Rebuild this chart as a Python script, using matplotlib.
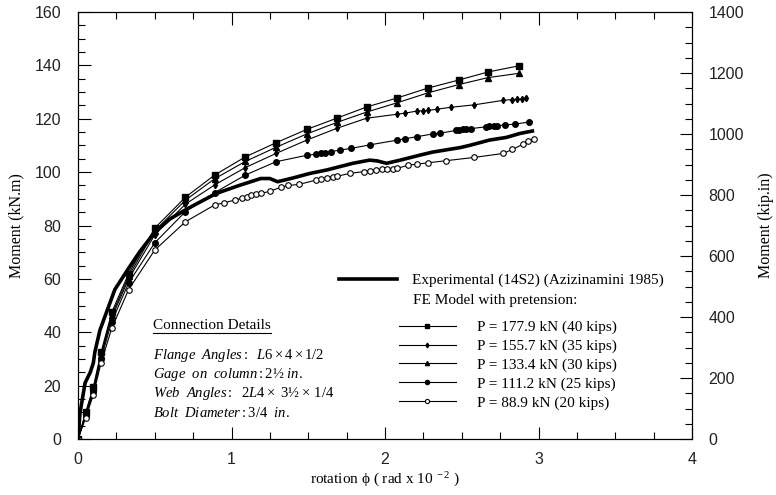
import matplotlib
matplotlib.use("Agg")
import matplotlib.pyplot as plt
from matplotlib.ticker import MultipleLocator
from matplotlib.lines import Line2D

plt.rcParams['mathtext.fontset'] = 'custom'
plt.rcParams['mathtext.rm'] = 'Liberation Serif'
plt.rcParams['mathtext.it'] = 'Liberation Serif:italic'
plt.rcParams['mathtext.bf'] = 'Liberation Serif:bold'

# ---------------- data ----------------
exp_x = [0, 0.013, 0.046, 0.08, 0.1, 0.11, 0.143, 0.24, 0.33, 0.4, 0.5, 0.6, 0.72, 0.9, 1.05,
         1.19, 1.25, 1.30, 1.40, 1.51, 1.62, 1.79, 1.90, 1.95, 2.01, 2.10, 2.23, 2.31, 2.49,
         2.55, 2.68, 2.79, 2.88, 2.96]
exp_y = [0, 9.7, 21, 25, 28.5, 32.6, 40.8, 56, 64, 70, 77.5, 82.5, 86.5, 92, 95,
         97.6, 97.6, 96.4, 97.8, 99.5, 100.8, 103.3, 104.5, 104.2, 103.3, 104.5, 106.4, 107.5, 109.2,
         110, 112, 113, 114.5, 115.4]

p40_x = [0, 0.05, 0.1, 0.15, 0.22, 0.33, 0.5, 0.7, 0.89, 1.09, 1.29, 1.49, 1.69, 1.88, 2.08,
         2.28, 2.48, 2.67, 2.87]
p40_y = [0, 10, 19.5, 32.5, 47.5, 62, 79, 90.6, 98.9, 105.7, 111, 116, 120.3, 124.4, 127.8,
         131.5, 134.5, 137.5, 139.8]

p30_x = p40_x
p30_y = [0, 9.5, 19, 31.5, 46.5, 61, 78, 89.5, 97.5, 104, 109.3, 114.3, 118.7, 122.5, 126,
         129.7, 132.8, 135.4, 137]

p35_x = [0, 0.05, 0.1, 0.15, 0.22, 0.33, 0.5, 0.7, 0.89, 1.09, 1.29, 1.49, 1.69, 1.88, 2.08,
         2.13, 2.21, 2.25, 2.28, 2.34, 2.43, 2.58, 2.77, 2.83, 2.86, 2.89, 2.92]
p35_y = [0, 9, 18, 31, 45.5, 60, 76.5, 88, 95.2, 101.7, 107, 112, 116.5, 120.2, 121.7,
         122.1, 122.9, 123, 123.1, 123.6, 124.3, 125.2, 126.9, 127.2, 127.3, 127.4, 127.8]

p25_x = [0, 0.05, 0.1, 0.15, 0.22, 0.33, 0.5, 0.7, 0.89, 1.09, 1.29, 1.49, 1.55, 1.58, 1.61,
         1.65, 1.71, 1.78, 1.90, 2.08, 2.13, 2.21, 2.31, 2.36, 2.46, 2.48, 2.51, 2.53, 2.56,
         2.66, 2.68, 2.71, 2.73, 2.78, 2.85, 2.94]
p25_y = [0, 8.5, 17.5, 30, 44, 58.5, 73.5, 85.2, 92.3, 98.9, 103.9, 106.3, 106.7, 107.0, 107.3,
         107.7, 108.3, 108.9, 110.2, 112, 112.5, 113.3, 114.3, 114.6, 115.6, 115.8, 116.0, 116.1, 116.3,
         117.0, 117.1, 117.2, 117.3, 117.7, 118, 118.8]

p20_x = [0, 0.05, 0.1, 0.15, 0.22, 0.33, 0.5, 0.7, 0.89, 0.95, 1.02, 1.07, 1.10, 1.13, 1.16,
         1.19, 1.25, 1.32, 1.37, 1.44, 1.55, 1.58, 1.62, 1.66, 1.69, 1.77, 1.86, 1.90, 1.94,
         1.98, 2.01, 2.05, 2.08, 2.15, 2.21, 2.28, 2.40, 2.58, 2.77, 2.83, 2.90, 2.93, 2.97]
p20_y = [0, 8, 16.5, 28.5, 41.5, 56, 70.8, 81.4, 87.7, 88.5, 89.5, 90.2, 90.8, 91.3, 91.7,
         92.0, 92.8, 94.3, 95.0, 95.4, 97.0, 97.4, 97.9, 98.3, 98.5, 99.5, 100.2, 100.5, 100.8,
         101.0, 101.2, 101.3, 101.4, 102.6, 103, 103.5, 104.3, 105.5, 107, 108.5, 110.5, 111.8, 112.4]

labels = ["Experimental (14S2) (Azizinamini 1985)",
          "P = 177.9 kN (40 kips)", "P = 155.7 kN (35 kips)", "P = 133.4 kN (30 kips)",
          "P = 111.2 kN (25 kips)", "P = 88.9 kN (20 kips)"]

# ---------------- figure ----------------
fig = plt.figure(figsize=(7.76, 4.95), dpi=100)
ax = fig.add_axes([78/776, 1-439/495, (692-78)/776, (439-12)/495])
serif = 'Liberation Serif'
sans = 'Liberation Sans'

lw = 0.8
ax.plot(exp_x, exp_y, color='black', lw=2.6, label=labels[0], zorder=5)
h40, = ax.plot(p40_x, p40_y, color='black', lw=lw, marker='s', ms=4, label=labels[1])
h35, = ax.plot(p35_x, p35_y, color='black', lw=lw, marker='d', ms=3.2, label=labels[2])
h30, = ax.plot(p30_x, p30_y, color='black', lw=lw, marker='^', ms=4, label=labels[3])
h25, = ax.plot(p25_x, p25_y, color='black', lw=lw, marker='o', ms=4, label=labels[4])
h20, = ax.plot(p20_x, p20_y, color='black', lw=lw, marker='o', ms=4, mfc='white', mew=0.8, label=labels[5])

ax.set_xlim(0, 4)
ax.set_ylim(0, 160)
ax.xaxis.set_major_locator(MultipleLocator(1))
ax.xaxis.set_minor_locator(MultipleLocator(0.25))
ax.yaxis.set_major_locator(MultipleLocator(20))
ax.yaxis.set_minor_locator(MultipleLocator(5))
ax.tick_params(which='both', direction='in', top=True, right=False, labelsize=11.5)
ax.tick_params(which='major', length=9, width=0.8)
ax.tick_params(which='minor', length=5, width=0.8)
ax.tick_params(axis='x', pad=9)
ax.tick_params(axis='y', pad=12)
for lab in ax.get_xticklabels() + ax.get_yticklabels():
    lab.set_fontfamily(sans)
    lab.set_color('#222222')

ax2 = ax.twinx()
ax2.set_ylim(0, 1400)
ax2.yaxis.set_major_locator(MultipleLocator(200))
ax2.yaxis.set_minor_locator(MultipleLocator(50))
ax2.tick_params(which='both', direction='in', labelsize=11.5, pad=12)
ax2.tick_params(which='major', length=9, width=0.8)
ax2.tick_params(which='minor', length=5, width=0.8)
for lab in ax2.get_yticklabels():
    lab.set_fontfamily(sans)
    lab.set_color('#222222')

for a in (ax, ax2):
    for s in a.spines.values():
        s.set_linewidth(0.8)

ax.set_ylabel("Moment (kN.m)", fontfamily=serif, fontsize=11.5, labelpad=7)
ax2.set_ylabel("Moment (kip.in)", fontfamily=serif, fontsize=11.5, labelpad=10)
ax.set_xlabel("rotation $\\mathrm{\\phi}$ ( rad x 10$^{\\ -2}$ )", fontfamily=serif, fontsize=11, labelpad=3)

# ---------------- legend ----------------
leg1 = ax.legend(handles=[ax.lines[0]], labels=[labels[0]], loc='upper left',
                 bbox_to_anchor=(0.425, 0.388), frameon=False, prop={'family': serif, 'size': 11},
                 handlelength=3.8, handletextpad=1.0, borderpad=0, borderaxespad=0)
ax.add_artist(leg1)
ax.text(0.546, 0.324, "FE Model with pretension:", transform=ax.transAxes,
        fontfamily=serif, fontsize=11, va='center', ha='left')
leg2 = ax.legend(handles=[h40, h35, h30, h25, h20], labels=labels[1:], loc='upper left',
                 bbox_to_anchor=(0.523, 0.278), frameon=False, prop={'family': serif, 'size': 11},
                 handlelength=3.7, handletextpad=1.4, labelspacing=0.33, borderpad=0,
                 borderaxespad=0, markerscale=0.75)

# ---------------- connection details ----------------
cd = ax.text(0.122, 0.266, "Connection Details", transform=ax.transAxes,
             fontfamily=serif, fontsize=11, va='center', ha='left')
lines_txt = ["$Flange\\ \\ Angles:\\ \\ L6 \\times 4 \\times 1/2$",
             "$Gage\\ \\ on\\ \\ column:$2\u00bd $in.$",
             "$Web\\ \\ Angles:\\ \\ 2L4 \\times$ 3\u00bd $\\times\\ 1/4$",
             "$Bolt\\ \\ Diameter:3/4\\ \\ in.$"]
ys = [0.195, 0.150, 0.106, 0.061]
for t, yy in zip(lines_txt, ys):
    ax.text(0.122, yy, t, transform=ax.transAxes, fontfamily=serif, fontsize=10.5,
            va='center', ha='left')

fig.canvas.draw()
bb = cd.get_window_extent()
fig.add_artist(Line2D([bb.x0 / fig.bbox.width, bb.x1 / fig.bbox.width],
                      [(bb.y0 - 1) / fig.bbox.height] * 2, color='black', lw=0.8))

fig.savefig("out.png", dpi=100)
